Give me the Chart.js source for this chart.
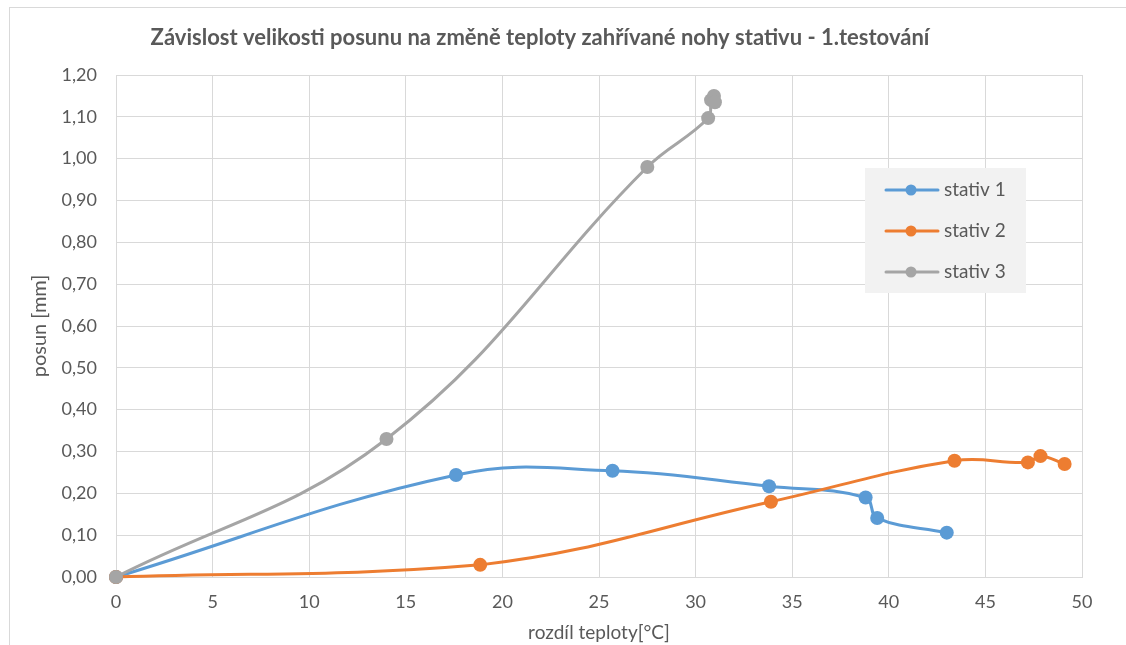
<!DOCTYPE html>
<html>
<head>
<meta charset="utf-8">
<script src="https://cdn.jsdelivr.net/npm/chart.js@4"></script>
<style>
  html, body { margin: 0; padding: 0; background: #ffffff; }
  #wrap { position: relative; width: 1126px; height: 645px; overflow: hidden; }
  #frame { position: absolute; left: 9px; top: 7px; width: 1200px; height: 700px; border-left: 1px solid #d9d9d9; border-top: 1px solid #d9d9d9; }
  canvas { position: absolute; left: 0; top: 0; }
</style>
</head>
<body>
<div id="wrap">
  <div id="frame"></div>
  <canvas id="c" width="1126" height="645"></canvas>
</div>
<script>
const chartTitle = 'Závislost velikosti posunu na změně teploty zahřívané nohy stativu - 1.testování';
const xAxisTitle = 'rozdíl teploty[°C]';
const yAxisTitle = 'posun [mm]';
const seriesNames = ['stativ 1', 'stativ 2', 'stativ 3'];
const seriesColors = ['#5b9bd5', '#ed7d31', '#a5a5a5'];

const stativ1X = [0, 17.6, 25.7, 33.8, 38.8, 39.4, 43.0];
const stativ1Y = [0, 0.244, 0.254, 0.217, 0.190, 0.141, 0.106];
const stativ2X = [0, 18.85, 33.9, 43.4, 47.2, 47.85, 49.1];
const stativ2Y = [0, 0.029, 0.180, 0.278, 0.274, 0.289, 0.270];
const stativ3X = [0, 14.0, 27.5, 30.65, 30.8, 30.95, 31.0];
const stativ3Y = [0, 0.330, 0.980, 1.097, 1.140, 1.150, 1.135];

const xTickValues = [0, 5, 10, 15, 20, 25, 30, 35, 40, 45, 50];
const xTickLabels = ['0', '5', '10', '15', '20', '25', '30', '35', '40', '45', '50'];
const yTickValues = [0, 0.1, 0.2, 0.3, 0.4, 0.5, 0.6, 0.7, 0.8, 0.9, 1.0, 1.1, 1.2];
const yTickLabels = ['0,00', '0,10', '0,20', '0,30', '0,40', '0,50', '0,60', '0,70', '0,80', '0,90', '1,00', '1,10', '1,20'];

const textColor = '#595959';
const gridColor = '#d9d9d9';
const fontFamily = 'Lato, "Open Sans", sans-serif';

function toPoints(xs, ys) { return xs.map((x, i) => ({ x: x, y: ys[i] })); }
const seriesData = [toPoints(stativ1X, stativ1Y), toPoints(stativ2X, stativ2Y), toPoints(stativ3X, stativ3Y)];

const datasets = seriesData.map((d, i) => ({
  label: seriesNames[i],
  data: d,
  showLine: true,
  borderColor: seriesColors[i],
  backgroundColor: seriesColors[i],
  borderWidth: 3,
  pointRadius: 7,
  pointHoverRadius: 7,
  pointBorderWidth: 0,
  tension: 0.4,
  clip: false,
  order: 3 - i
}));

const titlePlugin = {
  id: 'excelTitle',
  afterDraw(chart) {
    const ctx = chart.ctx;
    ctx.save();
    ctx.font = 'bold 22px ' + fontFamily;
    ctx.fillStyle = textColor;
    ctx.textAlign = 'center';
    ctx.textBaseline = 'middle';
    ctx.fillText(chartTitle, 540, 38);
    ctx.restore();
  }
};

const legendPlugin = {
  id: 'excelLegend',
  afterDatasetsDraw(chart) {
    const ctx = chart.ctx;
    const bx = 865, by = 168, bw = 161, bh = 125;
    ctx.save();
    ctx.fillStyle = '#f2f2f2';
    ctx.fillRect(bx, by, bw, bh);
    const rows = [190, 231, 272];
    seriesNames.forEach((name, i) => {
      const y = rows[i];
      ctx.strokeStyle = seriesColors[i];
      ctx.lineWidth = 3;
      ctx.lineCap = 'round';
      ctx.beginPath();
      ctx.moveTo(886, y);
      ctx.lineTo(938, y);
      ctx.stroke();
      ctx.fillStyle = seriesColors[i];
      ctx.beginPath();
      ctx.arc(911, y, 5.5, 0, Math.PI * 2);
      ctx.fill();
      ctx.fillStyle = textColor;
      ctx.font = '19px ' + fontFamily;
      ctx.textAlign = 'left';
      ctx.textBaseline = 'middle';
      ctx.fillText(name, 944, y);
    });
    ctx.restore();
  }
};

new Chart(document.getElementById('c'), {
  type: 'scatter',
  data: { datasets: datasets },
  options: {
    responsive: false,
    animation: false,
    events: [],
    layout: { padding: { left: 0, right: 44, top: 75, bottom: 0 } },
    plugins: {
      legend: { display: false },
      title: { display: false },
      tooltip: { enabled: false }
    },
    scales: {
      x: {
        type: 'linear',
        min: 0,
        max: 50,
        afterBuildTicks(scale) { scale.ticks = xTickValues.map(v => ({ value: v })); },
        afterFit(scale) { scale.height = 68; },
        ticks: {
          color: textColor,
          font: { family: fontFamily, size: 18 },
          padding: 14,
          callback(value) { const i = xTickValues.indexOf(value); return i >= 0 ? xTickLabels[i] : ''; }
        },
        grid: { color: gridColor, lineWidth: 1, drawTicks: false },
        border: { display: true, color: gridColor, width: 1 },
        title: {
          display: true,
          text: xAxisTitle,
          color: textColor,
          font: { family: fontFamily, size: 19 },
          padding: { top: 1, bottom: 1 }
        }
      },
      y: {
        type: 'linear',
        min: 0,
        max: 1.2,
        afterBuildTicks(scale) { scale.ticks = yTickValues.map(v => ({ value: v })); },
        afterFit(scale) { scale.width = 116; },
        ticks: {
          color: textColor,
          font: { family: fontFamily, size: 18 },
          padding: 19,
          callback(value) {
            const i = yTickValues.findIndex(v => Math.abs(v - value) < 1e-9);
            return i >= 0 ? yTickLabels[i] : '';
          }
        },
        grid: { color: gridColor, lineWidth: 1, drawTicks: false },
        border: { display: true, color: gridColor, width: 1 },
        title: {
          display: true,
          text: yAxisTitle,
          color: textColor,
          font: { family: fontFamily, size: 20 },
          padding: { top: 28, bottom: 28 }
        }
      }
    }
  },
  plugins: [titlePlugin, legendPlugin]
});
</script>
</body>
</html>
